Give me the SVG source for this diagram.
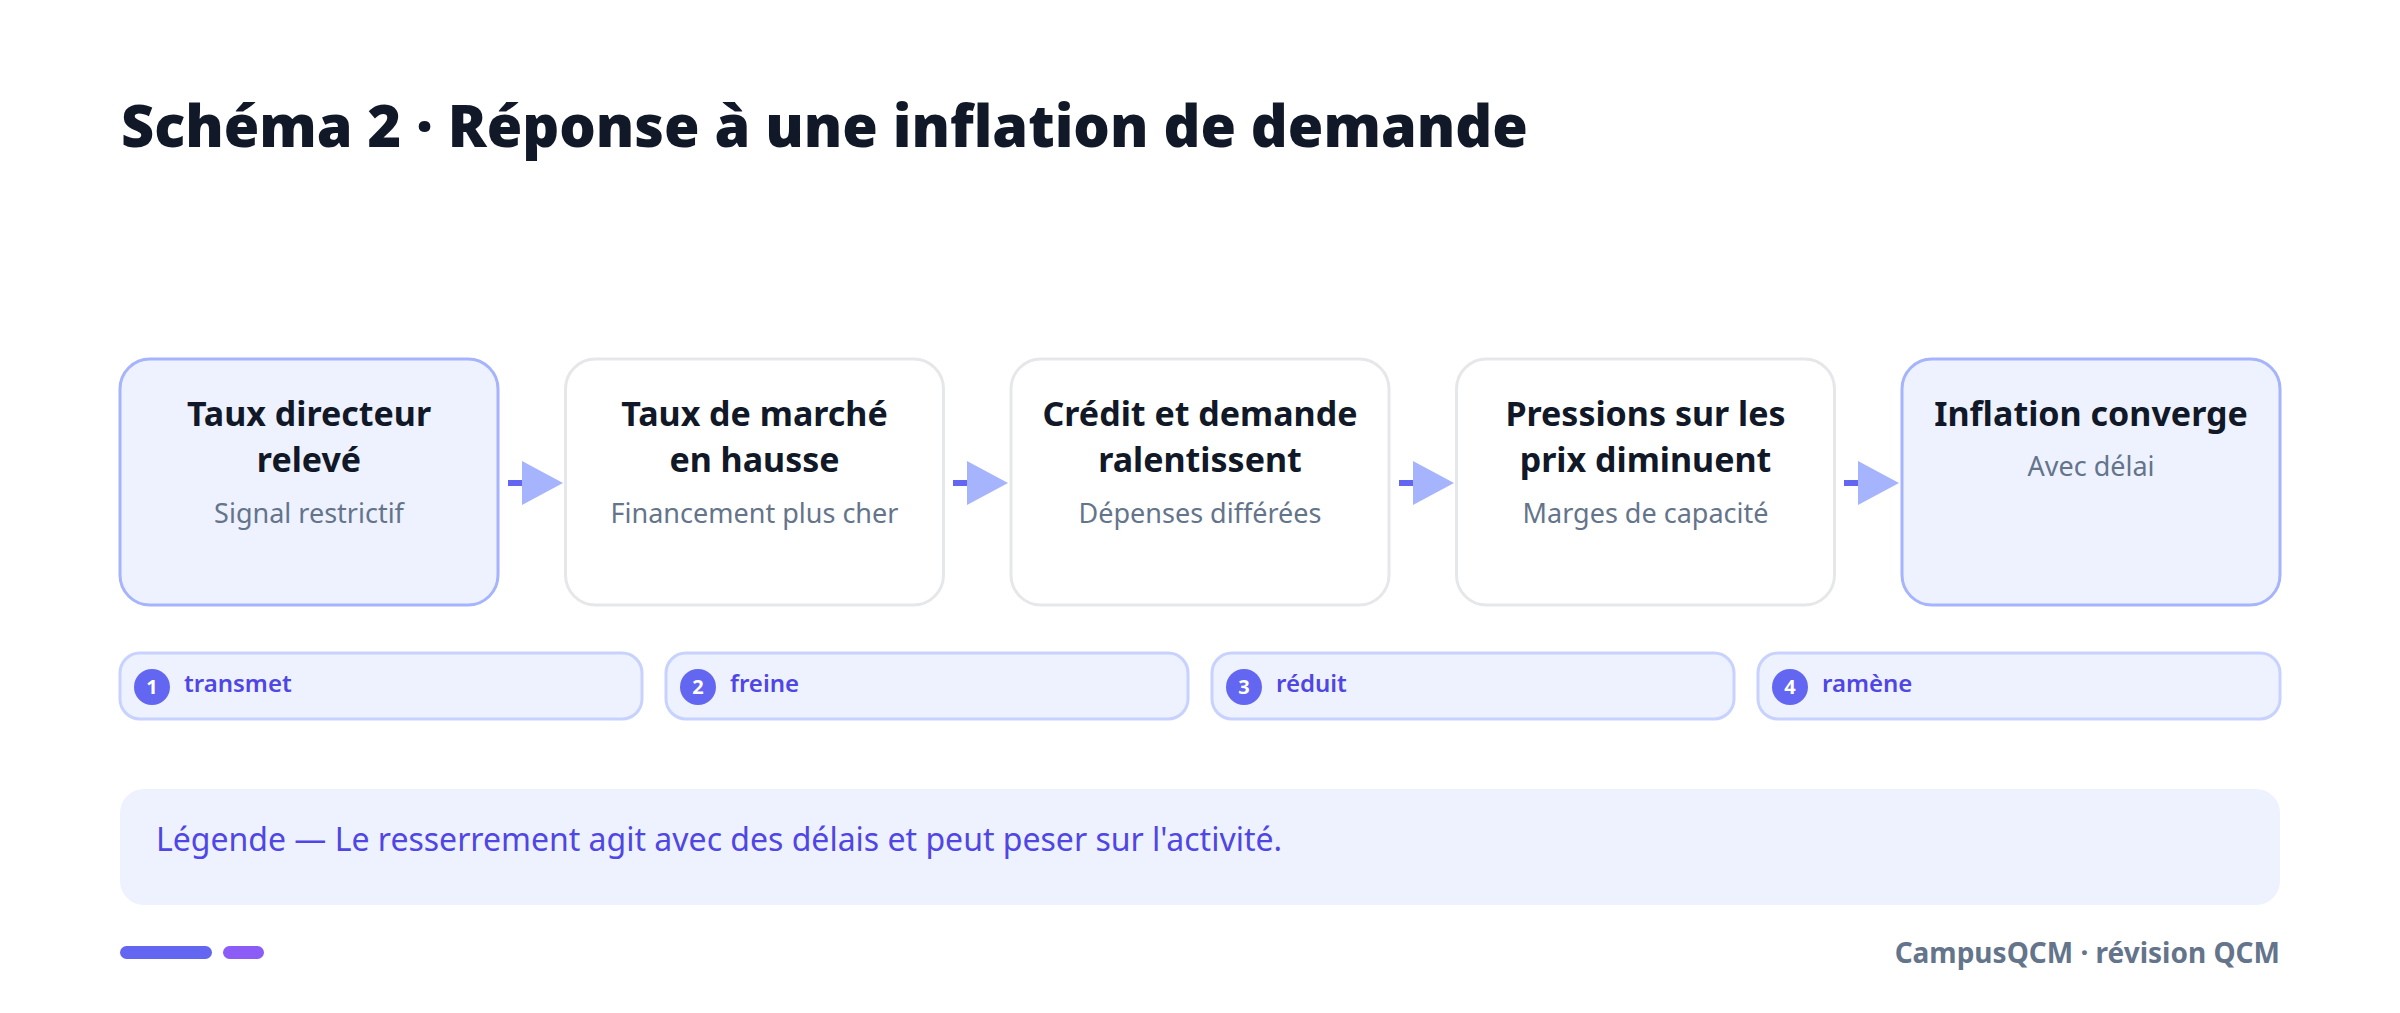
<svg xmlns="http://www.w3.org/2000/svg" width="2400" height="1013" viewBox="0 0 2400 1013">
<style>
.t{font-family:"Noto Sans","Open Sans","DejaVu Sans",sans-serif}
.h1{font-size:57.5px;font-weight:900;fill:#111827}
.nt{font-size:34px;font-weight:700;fill:#111827;text-anchor:middle}
.ns{font-size:27px;font-weight:400;fill:#64748B;text-anchor:middle}
.hi{fill:#EEF2FF;stroke:#A5B4FC;stroke-width:3}
.lo{fill:#FFFFFF;stroke:#E5E7EB;stroke-width:3}
.pill{fill:#EEF2FF;stroke:#C7D2FE;stroke-width:3}
.num{fill:#6366F1}
.nn{font-size:20px;font-weight:700;fill:#FFFFFF;text-anchor:middle}
.pl{font-size:24px;font-weight:600;fill:#4F46E5}
.stem{stroke:#6366F1;stroke-width:6}
.head{fill:#A5B4FC}
</style>
<rect width="2400" height="1013" fill="#FFFFFF"/>
<text class="t h1" x="121" y="147">Schéma 2 · Réponse à une inflation de demande</text>

<g id="connectors">
<line class="stem" x1="508" y1="483" x2="526" y2="483"/><polygon class="head" points="522,461 563,483 522,505"/>
<line class="stem" x1="953" y1="483" x2="971" y2="483"/><polygon class="head" points="967,461 1008,483 967,505"/>
<line class="stem" x1="1399" y1="483" x2="1417" y2="483"/><polygon class="head" points="1413,461 1454,483 1413,505"/>
<line class="stem" x1="1844" y1="483" x2="1862" y2="483"/><polygon class="head" points="1858,461 1899,483 1858,505"/>
</g>

<g id="node1"><rect class="hi" x="120" y="359" width="378" height="246" rx="30"/>
<text class="t nt" x="309" y="426">Taux directeur</text><text class="t nt" x="309" y="472">relevé</text>
<text class="t ns" x="309" y="523">Signal restrictif</text></g>
<g id="node2"><rect class="lo" x="565.5" y="359" width="378" height="246" rx="30"/>
<text class="t nt" x="754.5" y="426">Taux de marché</text><text class="t nt" x="754.5" y="472">en hausse</text>
<text class="t ns" x="754.5" y="523">Financement plus cher</text></g>
<g id="node3"><rect class="lo" x="1011" y="359" width="378" height="246" rx="30"/>
<text class="t nt" x="1200" y="426">Crédit et demande</text><text class="t nt" x="1200" y="472">ralentissent</text>
<text class="t ns" x="1200" y="523">Dépenses différées</text></g>
<g id="node4"><rect class="lo" x="1456.5" y="359" width="378" height="246" rx="30"/>
<text class="t nt" x="1645.5" y="426">Pressions sur les</text><text class="t nt" x="1645.5" y="472">prix diminuent</text>
<text class="t ns" x="1645.5" y="523">Marges de capacité</text></g>
<g id="node5"><rect class="hi" x="1902" y="359" width="378" height="246" rx="30"/>
<text class="t nt" x="2091" y="426">Inflation converge</text>
<text class="t ns" x="2091" y="476">Avec délai</text></g>

<g id="step1"><rect class="pill" x="120" y="653" width="522" height="66" rx="20"/>
<circle class="num" cx="152" cy="687" r="18"/><text class="t nn" x="152" y="694">1</text>
<text class="t pl" x="184" y="692">transmet</text></g>
<g id="step2"><rect class="pill" x="666" y="653" width="522" height="66" rx="20"/>
<circle class="num" cx="698" cy="687" r="18"/><text class="t nn" x="698" y="694">2</text>
<text class="t pl" x="730" y="692">freine</text></g>
<g id="step3"><rect class="pill" x="1212" y="653" width="522" height="66" rx="20"/>
<circle class="num" cx="1244" cy="687" r="18"/><text class="t nn" x="1244" y="694">3</text>
<text class="t pl" x="1276" y="692">réduit</text></g>
<g id="step4"><rect class="pill" x="1758" y="653" width="522" height="66" rx="20"/>
<circle class="num" cx="1790" cy="687" r="18"/><text class="t nn" x="1790" y="694">4</text>
<text class="t pl" x="1822" y="692">ramène</text></g>

<g id="legend"><rect x="120" y="789" width="2160" height="116" rx="24" fill="#EEF2FF"/>
<text class="t" x="156" y="851" font-size="32" fill="#4F46E5">Légende — Le resserrement agit avec des délais et peut peser sur l'activité.</text></g>

<g id="footer">
<rect x="120" y="946" width="92" height="13" rx="6.5" fill="#6366F1"/>
<rect x="223" y="946" width="41" height="13" rx="6.5" fill="#8B5CF6"/>
<text class="t" x="2280" y="963" font-size="28" font-weight="700" fill="#64748B" text-anchor="end">CampusQCM · révision QCM</text>
</g>
</svg>
